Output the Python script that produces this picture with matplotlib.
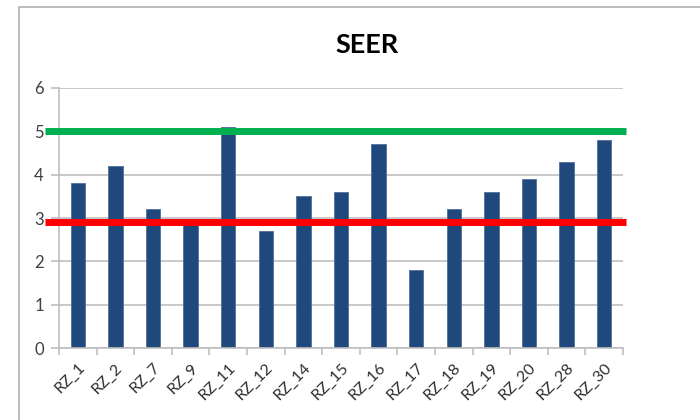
import numpy as np
import matplotlib
matplotlib.use('Agg')
import matplotlib.pyplot as plt
from matplotlib.patches import Rectangle

labels = ['RZ_1', 'RZ_2', 'RZ_7', 'RZ_9', 'RZ_11', 'RZ_12', 'RZ_14', 'RZ_15',
          'RZ_16', 'RZ_17', 'RZ_18', 'RZ_19', 'RZ_20', 'RZ_28', 'RZ_30']
seer = [3.8, 4.2, 3.2, 2.9, 5.1, 2.7, 3.5, 3.6, 4.7, 1.8, 3.2, 3.6, 3.9, 4.3, 4.8]
upper_limit = 5.0
lower_limit = 2.9

plt.rcParams['font.family'] = ['Lato', 'DejaVu Sans']

fig = plt.figure(figsize=(7, 4.2), dpi=100)
ax = fig.add_axes([0.0843, 0.1714, 0.8057, 0.6191])

# outer chart frame
fig.patches.append(Rectangle((19/700, -0.1), 1.2, 1.1 - 7/420, transform=fig.transFigure,
                             fill=False, edgecolor='#B0B0B0', linewidth=1.2))

x = np.arange(len(labels))
ax.bar(x, seer, width=0.38, color='#1F497D', edgecolor='#4F6F9A', linewidth=0.6, zorder=2)

ax.set_xlim(-0.5, len(labels) - 0.5)
ax.set_ylim(0, 6)
ax.set_yticks(range(0, 7))
ax.yaxis.grid(True, color='#BFBFBF', linewidth=1.2, zorder=0)
ax.set_axisbelow(True)

for side in ['top', 'right']:
    ax.spines[side].set_visible(False)
for side in ['left', 'bottom']:
    ax.spines[side].set_color('#BFBFBF')
    ax.spines[side].set_linewidth(1.2)

ax.tick_params(axis='y', length=6, color='#BFBFBF', width=1.2, labelsize=12,
               labelcolor='#404040', pad=5)
ax.set_xticks(x)
ax.set_xticklabels(labels, rotation=45, ha='right', rotation_mode='anchor',
                   fontsize=11.5, color='#303030')
ax.tick_params(axis='x', length=0, pad=9)
ax.set_xticks(np.arange(-0.5, len(labels)), minor=True)
ax.tick_params(axis='x', which='minor', length=5, color='#BFBFBF', width=1.2)

# threshold lines
ax.axhline(upper_limit, xmin=-0.0248, xmax=1.005, color='#00B050', linewidth=5,
           solid_capstyle='butt', clip_on=False, zorder=3)
ax.axhline(lower_limit, xmin=-0.0248, xmax=1.005, color='#FF0000', linewidth=5,
           solid_capstyle='butt', clip_on=False, zorder=3)

fig.text(367/700, 1 - 45/420, 'SEER', ha='center', va='center',
         fontsize=19.5, fontweight='bold', color='black')

fig.savefig('out.png', dpi=100)
